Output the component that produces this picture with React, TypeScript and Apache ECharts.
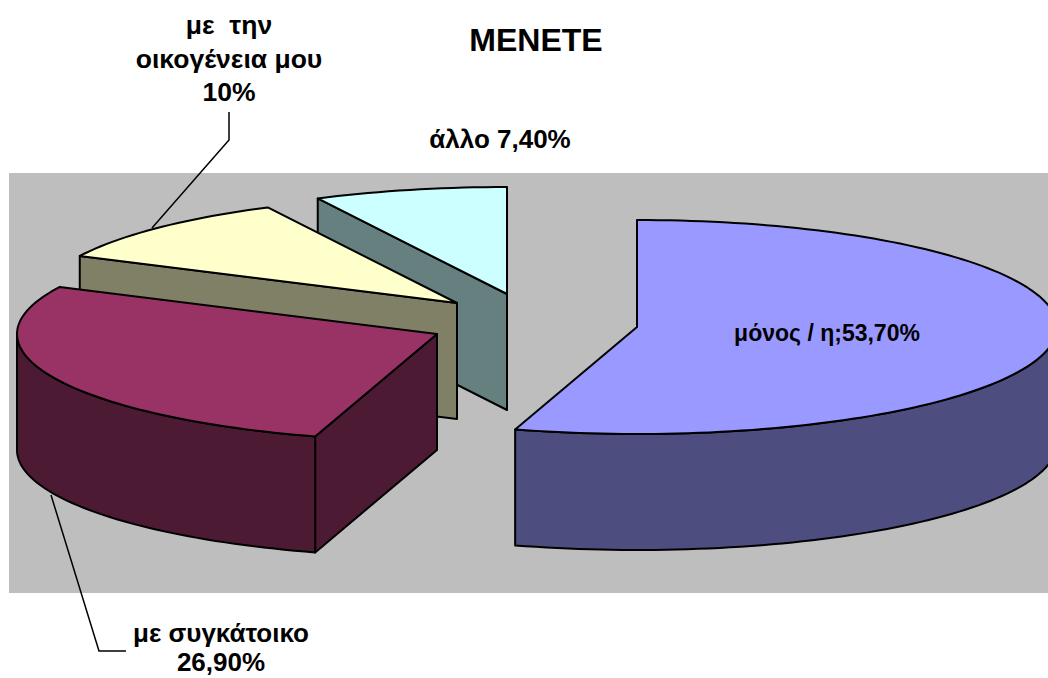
import React, { useEffect, useRef } from "react";
import * as echarts from "echarts";

// Data (the printed shares add up to 98)
const categories = ["μόνος / η", "με συγκάτοικο", "με την οικογένεια μου", "άλλο"];
const shareValues = [53.7, 26.9, 10, 7.4];
const titleText = "ΜΕΝΕΤΕ";
const labelLines = [
  ["μόνος / η;53,70%"],
  ["με συγκάτοικο", "26,90%"],
  ["με  την", "οικογένεια μου", "10%"],
  ["άλλο 7,40%"],
];

// Drawing style and layout
const topColors = ["#9999FF", "#993366", "#FFFFCC", "#CCFFFF"];
const wallColors = ["#4D4D80", "#4D1A33", "#808066", "#668080"];
const apexX = [637, 437, 457, 507];
const apexY = [327, 334, 303, 294];
const layers = [4, 3, 2, 1];
const RX = 420;
const RY = 107;
const DEPTH = 116;
const cutShift = [0, -0.4, 0, 0.4, 0];
const labelX = [827, 221, 229, 500];
const labelMiddle = [333, 633, 25, 139];
const labelFont = [23, 26, 26.5, 26];
const labelLineHeight = [0, 29, 33.5, 0];

const total = shareValues.reduce((a, b) => a + b, 0);

function boundary(count: number): number {
  const deg = (shareValues.slice(0, count).reduce((a, b) => a + b, 0) / total) * 360;
  return deg + cutShift[count];
}

function rim(cx: number, cy: number, deg: number, drop = 0): number[] {
  const t = (deg * Math.PI) / 180;
  return [cx + RX * Math.sin(t), cy - RY * Math.cos(t) + drop];
}

function arc(cx: number, cy: number, from: number, to: number, drop = 0): number[][] {
  const pts: number[][] = [];
  const n = Math.max(2, Math.ceil(Math.abs(to - from) / 1.5));
  for (let i = 0; i <= n; i++) pts.push(rim(cx, cy, from + ((to - from) * i) / n, drop));
  return pts;
}

export default function App() {
  const ref = useRef<HTMLDivElement>(null);
  useEffect(() => {
    document.body.style.margin = "0";
    const chart = echarts.init(ref.current!, null, { renderer: "svg" });
    const line = { stroke: "#000", lineWidth: 2 };

    const renderItem = (params: any) => {
      const i = params.dataIndex;
      const start = boundary(i);
      const end = boundary(i + 1);
      const cx = apexX[i];
      const cy = apexY[i];
      const z2 = layers[i];
      const children: any[] = [];
      const poly = (points: number[][], fill: string) =>
        children.push({
          type: "polygon",
          shape: { points },
          style: { fill, ...line, lineJoin: "round" },
          z2,
        });
      const cut = (deg: number) => {
        const p = rim(cx, cy, deg);
        poly([[cx, cy], p, [p[0], p[1] + DEPTH], [cx, cy + DEPTH]], wallColors[i]);
      };
      if (Math.sin((start * Math.PI) / 180) < -1e-6) cut(start);
      if (Math.sin((end * Math.PI) / 180) > 1e-6) cut(end);
      const wallFrom = Math.max(start, 90);
      const wallTo = Math.min(end, 270);
      if (wallTo > wallFrom) {
        poly(
          [...arc(cx, cy, wallFrom, wallTo), ...arc(cx, cy, wallTo, wallFrom, DEPTH)],
          wallColors[i]
        );
      }
      poly([[cx, cy], ...arc(cx, cy, start, end)], topColors[i]);
      return { type: "group", children };
    };

    const labelGraphics = labelLines.flatMap((rows, i) =>
      rows.map((text, r) => ({
        type: "text",
        x: labelX[i],
        y: labelMiddle[i] + r * labelLineHeight[i],
        z: 10,
        style: {
          text,
          fill: "#000",
          font: `bold ${labelFont[i]}px "Liberation Sans", Arial, sans-serif`,
          textAlign: "center",
          textVerticalAlign: "middle",
        },
      }))
    );

    chart.setOption({
      animation: false,
      backgroundColor: "#FFFFFF",
      title: {
        text: titleText,
        left: 531,
        top: 19,
        textAlign: "center",
        textStyle: {
          fontFamily: '"Liberation Sans", Arial, sans-serif',
          fontWeight: "bold",
          fontSize: 32,
          color: "#000",
        },
      },
      graphic: [
        {
          type: "rect",
          z: -1,
          shape: { x: 9, y: 173, width: 1039, height: 420 },
          style: { fill: "#BEBEBE" },
        },
        {
          type: "polyline",
          z: 9,
          shape: { points: [[229, 112], [229, 140], [152, 228]] },
          style: { stroke: "#000", lineWidth: 1.5, fill: "none" },
        },
        {
          type: "polyline",
          z: 9,
          shape: { points: [[51, 495], [99, 651], [126, 651]] },
          style: { stroke: "#000", lineWidth: 1.5, fill: "none" },
        },
        ...labelGraphics,
      ],
      series: [
        {
          type: "custom",
          coordinateSystem: "none",
          renderItem,
          silent: true,
          clip: false,
          z: 2,
          data: shareValues.map((v, i) => ({ name: categories[i], value: [v] })),
        },
      ],
    });
    return () => chart.dispose();
  }, []);
  return <div ref={ref} style={{ width: 1048, height: 678 }} />;
}
